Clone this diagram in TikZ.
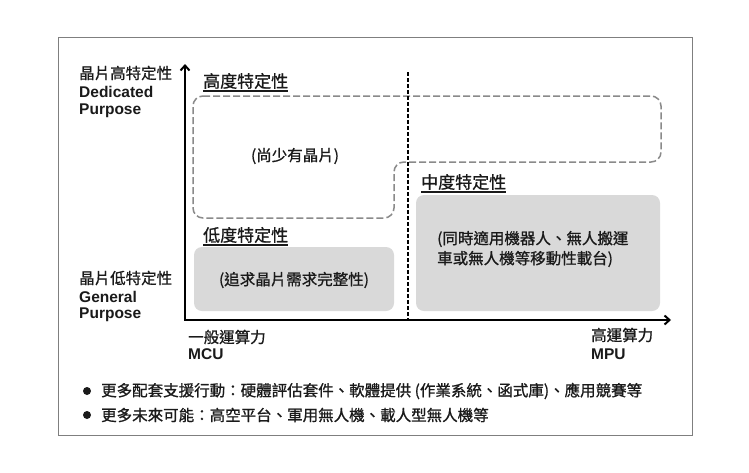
\documentclass[tikz,border=0pt]{standalone}
\usepackage{fontspec}
\setmainfont{Noto Sans CJK TC}[FakeBold=0.9]
\newfontfamily\headfont{Noto Sans CJK TC}[FakeBold=1.1]
\newfontfamily\lat{Liberation Sans}
\usetikzlibrary{arrows.meta}
\definecolor{txt}{HTML}{1A1A1A}
\definecolor{boxgray}{HTML}{D9D9D9}
\definecolor{dashgray}{HTML}{8A8A8A}
\definecolor{framegray}{HTML}{7F7F7F}
\begin{document}
\begin{tikzpicture}[x=1pt,y=-1pt,
  lbl/.style={anchor=west,inner sep=0pt,text=txt,font=\fontsize{15.5}{20}\selectfont},
  latlbl/.style={anchor=west,inner sep=0pt,text=txt,font=\lat\bfseries\fontsize{15.5}{19}\selectfont},
  heading/.style={anchor=west,inner sep=0pt,text=txt,font=\headfont\fontsize{17}{20}\selectfont},
  uline/.style={txt,line width=1.4pt},
  axisline/.style={black,line width=2.4pt,line join=miter},
  divline/.style={black,line width=1.8pt,dash pattern=on 4pt off 2pt},
  outline/.style={dashgray,line width=1.5pt,dash pattern=on 7pt off 3pt,rounded corners=10pt},
  graybox/.style={fill=boxgray,rounded corners=8pt},
  boxtext/.style={inner sep=0pt,text=txt,font=\fontsize{15.5}{20}\selectfont},
  bulletdot/.style={circle,fill=txt,inner sep=0pt,minimum size=8pt}
]
\fill[white] (0,0) rectangle (749,472);
\useasboundingbox (0,0) rectangle (749,472);
\draw[framegray,line width=1pt] (58,37) rectangle (692,435);

% regions
\fill[graybox] (194,247) rectangle (394,311);
\fill[graybox] (416,195) rectangle (660,311);
\draw[outline] (193,96) -- (661,96) -- (661,162) -- (394,162) -- (394,218) -- (193,218) -- cycle;

% divider
\coordinate (dtop) at (408,72);
\coordinate (dbot) at (408,320);
\draw[divline] (dtop) -- (dbot);

% axes
\coordinate (ytop) at (185,64);
\coordinate (O) at (185,320);
\coordinate (xend) at (671,320);
\draw[axisline,{Straight Barb[length=5pt,width=9pt,line width=2pt]}-{Straight Barb[length=5pt,width=9pt,line width=2pt]}] (ytop) -- (O) -- (xend);

% headings
\node[heading] (h1) at (203,81) {高度特定性};
\draw[uline] ([yshift=-2pt]h1.south west) -- ([yshift=-2pt]h1.south east);
\node[heading] (h2) at (203,235) {低度特定性};
\draw[uline] ([yshift=-2pt]h2.south west) -- ([yshift=-2pt]h2.south east);
\node[heading] (h3) at (421,182) {中度特定性};
\draw[uline] ([yshift=-2pt]h3.south west) -- ([yshift=-2pt]h3.south east);

% region texts
\node[boxtext] (t1) at (295,156) {(尚少有晶片)};
\node[boxtext] (t2) at (294,280) {(追求晶片需求完整性)};
\node[boxtext,anchor=west,align=left] (t3) at (437,249) {(同時適用機器人、無人搬運\\車或無人機等移動性載台)};

% y labels
\node[lbl] (yh) at (79,73) {晶片高特定性};
\node[latlbl] (yh2) at (79,92) {Dedicated};
\node[latlbl] (yh3) at (79,111) {Purpose};
\node[lbl] (yl) at (79,278) {晶片低特定性};
\node[latlbl] (yl2) at (79,297) {General};
\node[latlbl] (yl3) at (79,315) {Purpose};

% x labels
\node[lbl] (xl) at (188,337) {一般運算力};
\node[latlbl] (xl2) at (188,354) {MCU};
\node[lbl] (xh) at (591,335) {高運算力};
\node[latlbl] (xh2) at (591,354) {MPU};

% bullets
\node[bulletdot] (b1) at (87,391) {};
\node[lbl] (bt1) at (101,391) {更多配套支援行動：硬體評估套件、軟體提供 (作業系統、函式庫)、應用競賽等};
\node[bulletdot] (b2) at (87,415) {};
\node[lbl] (bt2) at (101,415) {更多未來可能：高空平台、軍用無人機、載人型無人機等};
\end{tikzpicture}
\end{document}
